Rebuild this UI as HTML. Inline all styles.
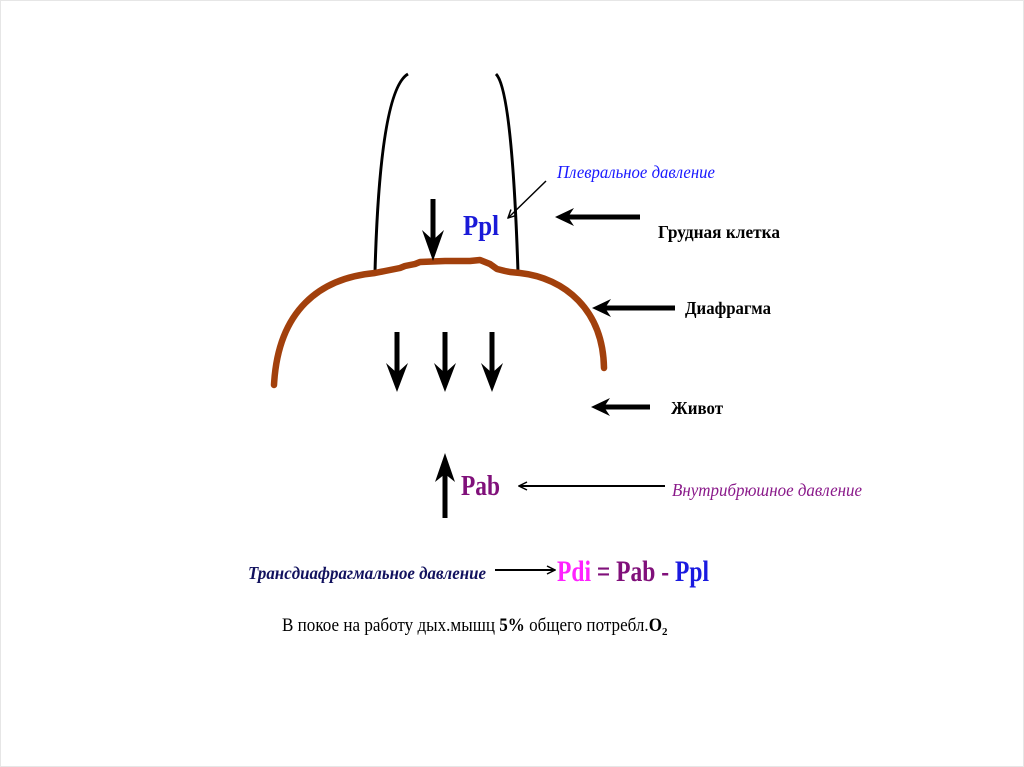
<!DOCTYPE html>
<html><head><meta charset="utf-8"><style>
html,body{margin:0;padding:0;background:#fff;}
svg{display:block;}
text{font-family:"Liberation Serif","Noto Serif CJK SC",serif;}
</style></head><body>
<svg width="1024" height="767" viewBox="0 0 1024 767" xmlns="http://www.w3.org/2000/svg">
<rect x="0" y="0" width="1024" height="767" fill="#fff"/>
<rect x="0.5" y="0.5" width="1023" height="766" fill="none" stroke="#e6e6e6"/>
<defs>
<marker id="ah" markerWidth="10" markerHeight="10" refX="9" refY="5" orient="auto" markerUnits="userSpaceOnUse">
<path d="M1,1 L9,5 L1,9" fill="none" stroke="#000" stroke-width="1.5"/></marker>
</defs>
<path d="M408,74 Q380,90 375,272" fill="none" stroke="#000" stroke-width="3"/>
<path d="M496,74 Q512,90 518,272" fill="none" stroke="#000" stroke-width="3"/>
<path d="M274,385 C278,310 320,278 375,273 L385,271 L400,268 L405,266 L415,264 L420,262 L445,261 L470,261 L480,260 L490,264 L497,269 L505,271 L510,272 L520,273 C565,278 603,310 604,368" fill="none" stroke="#a2400c" stroke-width="6.5" stroke-linecap="round" stroke-linejoin="round"/>
<g stroke="#000" stroke-width="5" fill="none">
<line x1="433" y1="199" x2="433" y2="245"/>
<line x1="397" y1="332" x2="397" y2="378"/>
<line x1="445" y1="332" x2="445" y2="378"/>
<line x1="492" y1="332" x2="492" y2="378"/>
<line x1="445" y1="518" x2="445" y2="470"/>
<line x1="640" y1="217" x2="565" y2="217"/>
<line x1="675" y1="308" x2="602" y2="308"/>
<line x1="650" y1="407" x2="601" y2="407"/>
</g>
<g fill="#000">
<path d="M422,230 L433,261 L444,230 L433,240 Z"/>
<path d="M386,363 L397,392 L408,363 L397,373 Z"/>
<path d="M434,363 L445,392 L456,363 L445,373 Z"/>
<path d="M481,363 L492,392 L503,363 L492,373 Z"/>
<path d="M435,482 L445,453 L455,482 L445,474 Z"/>
<path d="M574,208 L555,217 L574,226 L568,217 Z"/>
<path d="M611,299 L592,308 L611,317 L605,308 Z"/>
<path d="M610,398 L591,407 L610,416 L604,407 Z"/>
</g>
<line x1="546" y1="181" x2="508" y2="218" stroke="#000" stroke-width="1.5" marker-end="url(#ah)"/>
<line x1="665" y1="486" x2="519" y2="486" stroke="#000" stroke-width="2" marker-end="url(#ah)"/>
<line x1="495" y1="570" x2="555" y2="570" stroke="#000" stroke-width="2" marker-end="url(#ah)"/>
<text x="557" y="178" font-size="18" font-style="italic" fill="#1a1aff" textLength="158" lengthAdjust="spacingAndGlyphs">Плевральное давление</text>
<text x="463" y="235" font-size="29" font-weight="bold" fill="#1a1ad8" textLength="36" lengthAdjust="spacingAndGlyphs">Ppl</text>
<text x="658" y="238" font-size="18" font-weight="bold" fill="#000" textLength="122" lengthAdjust="spacingAndGlyphs">Грудная клетка</text>
<text x="685" y="314" font-size="18" font-weight="bold" fill="#000" textLength="86" lengthAdjust="spacingAndGlyphs">Диафрагма</text>
<text x="671" y="414" font-size="18" font-weight="bold" fill="#000" textLength="52" lengthAdjust="spacingAndGlyphs">Живот</text>
<text x="461" y="495" font-size="29" font-weight="bold" fill="#80107a" textLength="39" lengthAdjust="spacingAndGlyphs">Pab</text>
<text x="672" y="496" font-size="18" font-style="italic" fill="#8a1a8a" textLength="190" lengthAdjust="spacingAndGlyphs">Внутрибрюшное давление</text>
<text x="248" y="579" font-size="18" font-style="italic" font-weight="bold" fill="#12125e" textLength="238" lengthAdjust="spacingAndGlyphs">Трансдиафрагмальное давление</text>
<text x="557" y="581" font-size="30" font-weight="bold" textLength="152" lengthAdjust="spacingAndGlyphs"><tspan fill="#ff22ff">Pdi</tspan><tspan fill="#80107a"> = Pab - </tspan><tspan fill="#1a1ae0">Ppl</tspan></text>
<text x="282" y="631" font-size="19" fill="#000" textLength="380" lengthAdjust="spacingAndGlyphs">В покое на работу дых.мышц <tspan font-weight="bold">5%</tspan> общего потребл.<tspan font-weight="bold">O</tspan></text>
<text x="662" y="635" font-size="11" font-weight="bold" fill="#000">2</text>
</svg>
</body></html>
